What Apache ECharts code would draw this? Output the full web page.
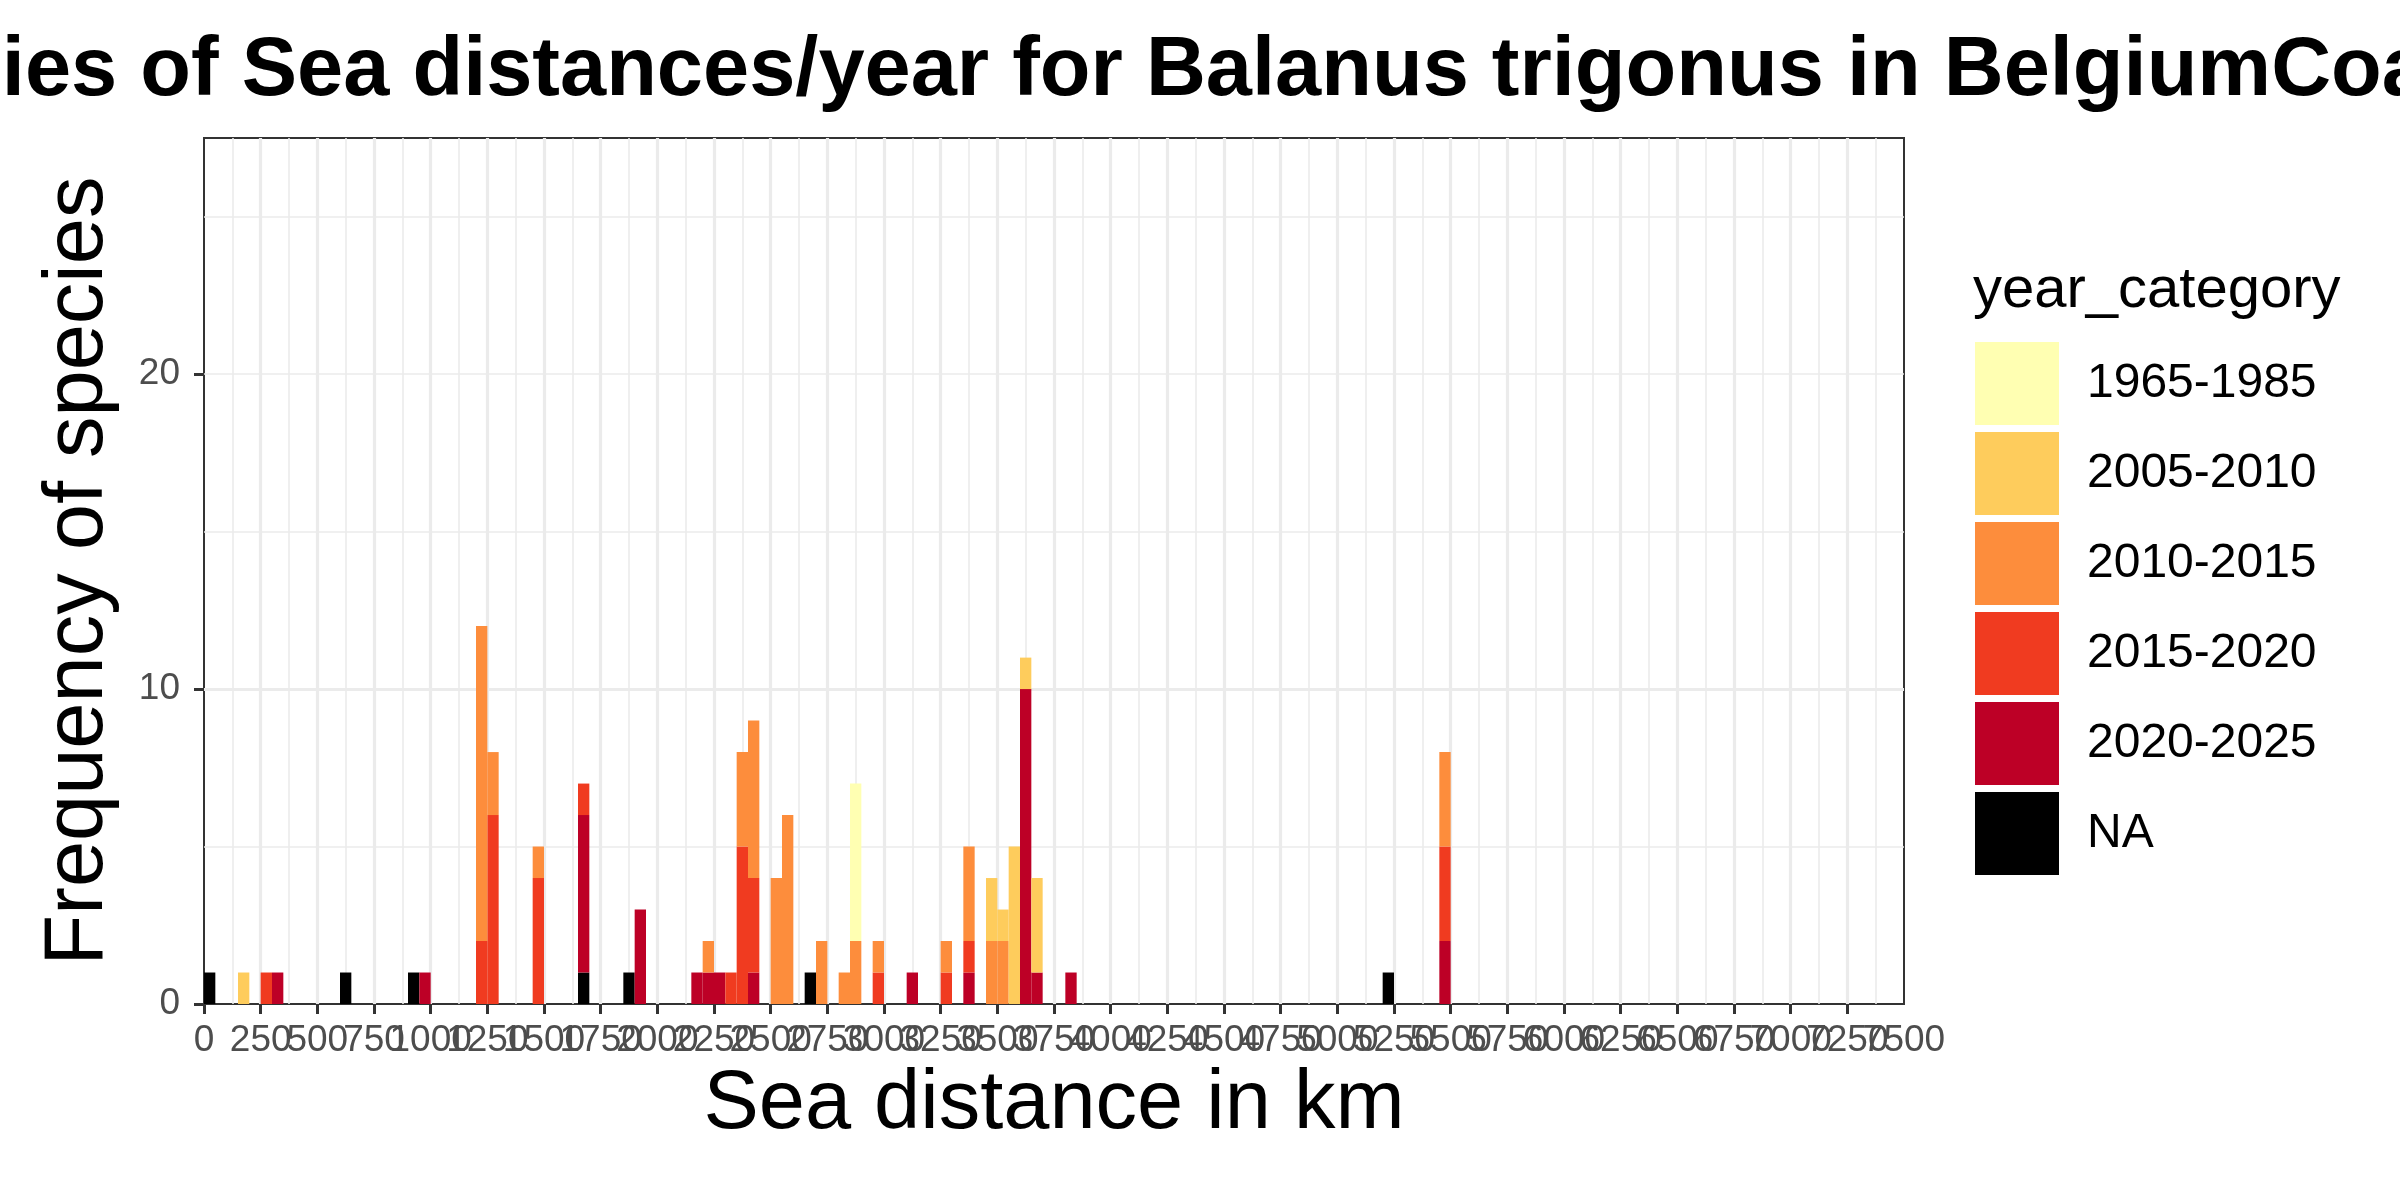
<!DOCTYPE html>
<html>
<head>
<meta charset="utf-8">
<title>Sea distances / year - Balanus trigonus</title>
<script src="https://cdn.jsdelivr.net/npm/echarts@6.0.0/dist/echarts.min.js"></script>
<style>
  html, body { margin: 0; padding: 0; background: #fff; }
  #main { width: 2400px; height: 1200px; }
</style>
</head>
<body>
<div id="main"></div>
<script>
// histogram, 50 km bins, stacked by year_category

var binWidth = 50;
// left edge (km) of every non-empty bin
var binStarts = [0, 150, 250, 300, 600, 900, 950, 1200, 1250, 1450, 1650, 1850, 1900,
    2150, 2200, 2250, 2300, 2350, 2400, 2500, 2550, 2650, 2700, 2800, 2850, 2950,
    3100, 3250, 3350, 3450, 3500, 3550, 3600, 3650, 3800, 5200, 5450];

// counts per category, same order as binStarts
var countNA   = [1,0,0,0,1,1,0,0,0,0,1,1,0,0,0,0,0,0,0,0,0,1,0,0,0,0,0,0,0,0,0,0,0,0,0,1,0];
var count2020 = [0,0,0,1,0,0,1,0,0,0,5,0,3,1,1,1,0,0,1,0,0,0,0,0,0,0,1,0,1,0,0,0,10,1,1,0,2];
var count2015 = [0,0,1,0,0,0,0,2,6,4,1,0,0,0,0,0,1,5,3,0,0,0,0,0,0,1,0,1,1,0,0,0,0,0,0,0,3];
var count2010 = [0,0,0,0,0,0,0,10,2,1,0,0,0,0,1,0,0,3,5,4,6,0,2,1,2,1,0,1,3,2,2,0,0,0,0,0,3];
var count2005 = [0,1,0,0,0,0,0,0,0,0,0,0,0,0,0,0,0,0,0,0,0,0,0,0,0,0,0,0,0,2,1,5,1,3,0,0,0];
var count1965 = [0,0,0,0,0,0,0,0,0,0,0,0,0,0,0,0,0,0,0,0,0,0,0,0,5,0,0,0,0,0,0,0,0,0,0,0,0];

var categories = ['1965-1985', '2005-2010', '2010-2015', '2015-2020', '2020-2025', 'NA'];
var colors = {
    '1965-1985': '#FFFFB2',
    '2005-2010': '#FECC5C',
    '2010-2015': '#FD8D3C',
    '2015-2020': '#F03B20',
    '2020-2025': '#BD0026',
    'NA': '#000000'
};
// stacking order, bottom first
var stackOrder = [
    ['NA', countNA],
    ['2020-2025', count2020],
    ['2015-2020', count2015],
    ['2010-2015', count2010],
    ['2005-2010', count2005],
    ['1965-1985', count1965]
];

// x tick labels (km)
var xTickValues = [0, 250, 500, 750, 1000, 1250, 1500, 1750, 2000, 2250, 2500, 2750,
    3000, 3250, 3500, 3750, 4000, 4250, 4500, 4750, 5000, 5250, 5500, 5750,
    6000, 6250, 6500, 6750, 7000, 7250, 7500];
var yTickValues = [0, 10, 20];
var yMax = 27.5;

var xMin = xTickValues[0];
var xMax = xTickValues[xTickValues.length - 1];
var xStep = xTickValues[1] - xTickValues[0];

var fontFamily = '"Liberation Sans", Arial, Helvetica, sans-serif';
var tickFont = { fontFamily: fontFamily, fontSize: 37, color: '#4D4D4D' };

function renderBin(params, api) {
    var x0 = api.value(0);
    var lo = api.value(1);
    var hi = api.value(2);
    var p0 = api.coord([x0, hi]);
    var p1 = api.coord([x0 + binWidth, lo]);
    return {
        type: 'rect',
        shape: { x: p0[0], y: p0[1], width: p1[0] - p0[0], height: p1[1] - p0[1] },
        style: api.style()
    };
}

var base = binStarts.map(function () { return 0; });
var series = stackOrder.map(function (s) {
    var name = s[0], counts = s[1];
    var data = [];
    counts.forEach(function (c, k) {
        if (c > 0) {
            data.push([binStarts[k], base[k], base[k] + c]);
            base[k] += c;
        }
    });
    return {
        name: name,
        type: 'custom',
        renderItem: renderBin,
        encode: { x: 0, y: 2 },
        itemStyle: { color: colors[name] },
        data: data
    };
});

var chart = echarts.init(document.getElementById('main'));

var option = {
    animation: false,
    backgroundColor: '#fff',
    title: [
        {
            text: 'Frequencies of Sea distances/year for Balanus trigonus in BelgiumCoast',
            left: 1060,
            top: 26,
            textAlign: 'center',
            textStyle: { fontFamily: fontFamily, fontSize: 83, fontWeight: 'bold', color: '#000' }
        },
        {
            text: 'year_category',
            left: 1968,
            top: 257,
            textStyle: { fontFamily: fontFamily, fontSize: 58, fontWeight: 'normal', color: '#000' }
        }
    ],
    legend: {
        orient: 'vertical',
        left: 1975,
        top: 342,
        padding: 0,
        itemWidth: 84,
        itemHeight: 83,
        itemGap: 7,
        icon: 'rect',
        selectedMode: false,
        data: categories,
        textStyle: { fontFamily: fontFamily, fontSize: 48, color: '#000', padding: [0, 0, 0, 23] }
    },
    grid: {
        left: 204,
        right: 496,
        top: 138,
        bottom: 196,
        show: true,
        borderColor: '#333333',
        borderWidth: 2,
        backgroundColor: '#fff'
    },
    xAxis: [
        {
            type: 'value',
            min: xMin,
            max: xMax,
            interval: xStep,
            name: 'Sea distance in km',
            nameLocation: 'middle',
            nameGap: 60,
            nameTextStyle: { fontFamily: fontFamily, fontSize: 83, color: '#000' },
            axisLine: { show: false },
            axisTick: { show: true, length: 10, lineStyle: { color: '#333333', width: 3 } },
            axisLabel: Object.assign({
                margin: 18,
                hideOverlap: false,
                showMinLabel: true,
                showMaxLabel: false,
                customValues: xTickValues,
                formatter: function (v) { return String(v); }
            }, tickFont),
            splitLine: {
                show: true, showMinLine: false, showMaxLine: false,
                lineStyle: { color: '#EBEBEB', width: 3.2 }
            },
            minorTick: { show: false, splitNumber: 2 },
            minorSplitLine: { show: true, lineStyle: { color: '#EBEBEB', width: 1.6 } }
        },
        {
            // only carries the last label, so the one before it is not dropped
            type: 'value',
            min: xMin,
            max: xMax,
            interval: xStep,
            position: 'bottom',
            axisLine: { show: false },
            axisTick: { show: false },
            splitLine: { show: false },
            axisLabel: Object.assign({
                margin: 18,
                showMaxLabel: true,
                customValues: [xMax],
                formatter: function (v) { return String(v); }
            }, tickFont)
        }
    ],
    yAxis: [
        {
            type: 'value',
            min: 0,
            max: yMax,
            interval: 10,
            name: 'Frequency of species',
            nameLocation: 'middle',
            nameRotate: 90,
            nameGap: 83,
            nameTextStyle: { fontFamily: fontFamily, fontSize: 83, color: '#000' },
            axisLine: { show: false },
            axisTick: { show: true, length: 10, customValues: yTickValues, lineStyle: { color: '#333333', width: 3 } },
            axisLabel: Object.assign({ margin: 24, customValues: yTickValues }, tickFont),
            splitLine: {
                show: true, showMinLine: false, showMaxLine: false,
                lineStyle: { color: '#EBEBEB', width: 3.2 }
            }
        },
        {
            // minor horizontal grid lines only
            type: 'value',
            min: 0,
            max: yMax,
            interval: 5,
            position: 'left',
            axisLine: { show: false },
            axisTick: { show: false },
            axisLabel: { show: false },
            splitLine: {
                show: true, showMinLine: false, showMaxLine: false,
                lineStyle: { color: '#EBEBEB', width: 1.6 }
            }
        }
    ],
    series: series
};

chart.setOption(option);
</script>
</body>
</html>
